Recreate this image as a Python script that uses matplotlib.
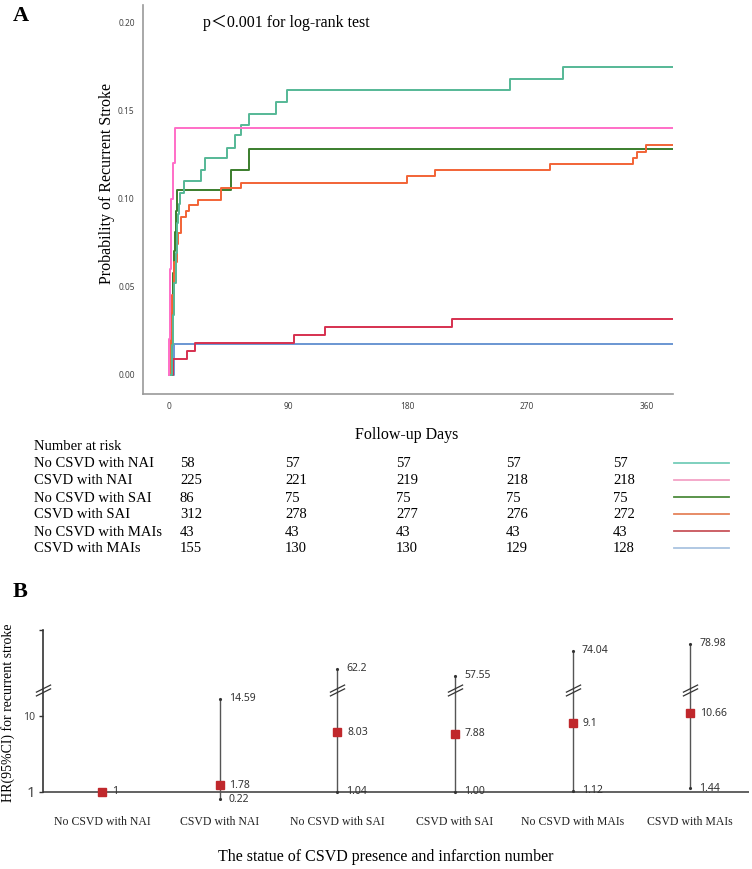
import numpy as np
import matplotlib.pyplot as plt
from matplotlib.path import Path

# ---- panel A: cumulative recurrence ----
groups = ["No CSVD with NAI", "CSVD with NAI", "No CSVD with SAI",
          "CSVD with SAI", "No CSVD with MAIs", "CSVD with MAIs"]

t_nai_no = [0, 2, 3, 4, 5, 6, 7, 7.5, 8.5, 11, 24, 27, 44, 50, 54, 60, 81, 89, 257, 297]
p_nai_no = [0, 0.017, 0.034, 0.052, 0.069, 0.086, 0.091, 0.097, 0.103, 0.110, 0.116,
            0.123, 0.129, 0.136, 0.142, 0.148, 0.155, 0.1615, 0.168, 0.175]
t_nai = [0, 0.3, 0.8, 1.5, 3.2, 4.5]
p_nai = [0, 0.02, 0.06, 0.100, 0.120, 0.140]
t_sai_no = [0, 2, 3, 3.5, 4.5, 5, 6.3, 47, 60]
p_sai_no = [0, 0.035, 0.058, 0.070, 0.081, 0.093, 0.105, 0.1165, 0.128]
t_sai = [0, 1.5, 2.5, 3.5, 5.7, 7, 8.7, 13, 15, 22, 39, 54, 179.5, 200.6, 287, 350, 353, 360]
p_sai = [0, 0.025, 0.045, 0.064, 0.074, 0.0805, 0.0895, 0.093, 0.0966, 0.0994, 0.106,
         0.109, 0.1127, 0.116, 0.1195, 0.123, 0.1263, 0.1305]
t_mai_no = [0, 2.7, 13.3, 19.6, 94.5, 117.7, 213.5]
p_mai_no = [0, 0.0089, 0.0135, 0.0178, 0.0223, 0.0269, 0.0314]
t_mai = [0, 3.5]
p_mai = [0, 0.0172]
t_end = 380

risk_days = [0, 90, 180, 270, 360]
at_risk = [[58, 57, 57, 57, 57],
           [225, 221, 219, 218, 218],
           [86, 75, 75, 75, 75],
           [312, 278, 277, 276, 272],
           [43, 43, 43, 43, 43],
           [155, 130, 130, 129, 128]]

# ---- panel B: hazard ratios ----
hr = [1, 1.78, 8.03, 7.88, 9.1, 10.66]
ci_lo = [1, 0.22, 1.04, 1.00, 1.12, 1.44]
ci_hi = [1, 14.59, 62.2, 57.55, 74.04, 78.98]
hr_txt = ["1", "1.78", "8.03", "7.88", "9.1", "10.66"]
lo_txt = ["", "0.22", "1.04", "1.00", "1.12", "1.44"]
hi_txt = ["", "14.59", "62.2", "57.55", "74.04", "78.98"]

W, H = 752, 869
plt.rcParams['font.family'] = ['Liberation Serif', 'Noto Sans CJK SC', 'DejaVu Sans']
fig = plt.figure(figsize=(W / 100, H / 100), dpi=100)

def fx(px):
    return px / W

def fy(py):
    return 1 - py / H

line_cols = ["#55b896", "#ff6ec7", "#3a7d2c", "#f26336", "#d6304f", "#6a96d2"]
leg_cols = ["#74cdb9", "#f3a3c6", "#4d8b3d", "#e5825a", "#c8545a", "#aac4e0"]
curves = [(t_nai_no, p_nai_no), (t_nai, p_nai), (t_sai_no, p_sai_no),
          (t_sai, p_sai), (t_mai_no, p_mai_no), (t_mai, p_mai)]

axA = fig.add_axes([fx(143), fy(394), fx(673) - fx(143), (394 - 5) / H])
for i in [5, 4, 2, 3, 0, 1]:
    t, p = curves[i]
    axA.step(list(t) + [t_end], list(p) + [p[-1]], where='post',
             color=line_cols[i], lw=1.4)
axA.set_xlim(-19.6, 380)
axA.set_ylim(-0.011, 0.210)
axA.set_xticks(risk_days)
axA.set_yticks([0, 0.05, 0.10, 0.15, 0.20])
axA.set_yticklabels(["%.2f" % v for v in [0, 0.05, 0.10, 0.15, 0.20]])
for s in ["top", "right"]:
    axA.spines[s].set_visible(False)
for s in ["left", "bottom"]:
    axA.spines[s].set_color("#999999")
    axA.spines[s].set_linewidth(1.2)
axA.tick_params(length=0, labelsize=6, labelcolor="#444444")
axA.tick_params(axis='y', pad=6)
axA.tick_params(axis='x', pad=6)
for lab in axA.get_xticklabels() + axA.get_yticklabels():
    lab.set_family("Noto Sans")

fig.text(fx(107), fy(183), "Probability of Recurrent Stroke", rotation=90,
         ha='center', va='center', fontsize=11.5)
fig.text(fx(203), fy(23), "p＜0.001 for log-rank test", ha='left', va='center',
         fontsize=11.5)
fig.text(fx(407), fy(435), "Follow-up Days", ha='center', va='center', fontsize=11.5)
fig.text(fx(13), fy(16), "A", ha='left', va='center', fontsize=16, weight='bold')

# number at risk table
fig.text(fx(34), fy(447), "Number at risk", ha='left', va='center', fontsize=10.5)
col_x = [180, 285, 396, 506, 613]
for r, name in enumerate(groups):
    yy = 464 + 17 * r
    fig.text(fx(34), fy(yy), name, ha='left', va='center', fontsize=10.5)
    for c, n in enumerate(at_risk[r]):
        fig.text(fx(col_x[c]), fy(yy), str(n), ha='left', va='center', fontsize=10.5)
    fig.add_artist(plt.Line2D([fx(674), fx(729)], [fy(yy - 1), fy(yy - 1)],
                              color=leg_cols[r], lw=1.3))

# ---- panel B ----
yv = [-10, 0, 10, 16, 50, 200]
yu = [-11, -1, 9, 11.6, 12.4, 12.4 + 150 * 6.2 / 35]

def fwd(v):
    return np.interp(v, yv, yu)

def inv(u):
    return np.interp(u, yu, yv)

axB = fig.add_axes([fx(43.3), fy(800.4), fx(749) - fx(43.3), (800.4 - 630) / H])
axB.set_yscale('function', functions=(fwd, inv))
axB.set_xlim(-0.5, 5.5)
axB.set_ylim(0, 88)
xs = np.arange(len(groups))
axB.axhline(1, color="#555555", lw=1.3, zorder=1)
for i in xs:
    if ci_hi[i] > ci_lo[i]:
        axB.plot([i, i], [ci_lo[i], ci_hi[i]], color="#555555", lw=1.0, zorder=2)
        axB.plot([i, i], [ci_lo[i], ci_hi[i]], ls='none', marker='.', ms=2.5,
                 color="#333333", zorder=2)
axB.plot(xs, hr, ls='none', marker='s', ms=5.5, color="#c0282c", zorder=3)

num_font = dict(family="Noto Sans", fontsize=7.5, color="#333333")
for i in xs:
    axB.annotate(hr_txt[i], (i, hr[i]), xytext=(7, 0), textcoords='offset points',
                 ha='left', va='center', **num_font)
    if hi_txt[i]:
        axB.annotate(hi_txt[i], (i, ci_hi[i]), xytext=(6.5, 0),
                     textcoords='offset points', ha='left', va='center', **num_font)
    if lo_txt[i]:
        dy = -1 if ci_lo[i] < 1 else 0
        axB.annotate(lo_txt[i], (i, ci_lo[i]), xytext=(6.5, dy),
                     textcoords='offset points', ha='left', va='center', **num_font)

# axis break marks "//"
slash = Path([(-1, -0.75), (1, 0.25), (-1, -0.25), (1, 0.75)],
             [Path.MOVETO, Path.LINETO, Path.MOVETO, Path.LINETO])
brk_y = inv(12.1)
brk_x = [-0.5] + [i for i in xs if ci_hi[i] > 50]
axB.plot(brk_x, [brk_y] * len(brk_x), ls='none', marker=slash, ms=11,
         mfc='none', mec="#333333", mew=0.9, clip_on=False, zorder=4)

for s in ["top", "right", "bottom"]:
    axB.spines[s].set_visible(False)
axB.spines["left"].set_bounds(1, 88)
axB.spines["left"].set_color("#333333")
axB.spines["left"].set_linewidth(1.2)
axB.set_yticks([1, 10, 88])
axB.set_yticklabels(["1", "10", ""])
axB.tick_params(axis='y', length=3, width=1, color="#333333", pad=3)
for lab in axB.get_yticklabels():
    lab.set_family("Noto Sans")
    lab.set_color("#444444")
    lab.set_fontsize(7.5)
axB.get_yticklabels()[0].set_fontsize(11)
axB.set_xticks(xs)
axB.set_xticklabels(groups, fontsize=8.5, color="#222222")
axB.tick_params(axis='x', length=0, pad=11)

fig.text(fx(8), fy(713), "HR(95%CI) for recurrent stroke", rotation=90,
         ha='center', va='center', fontsize=10)
fig.text(fx(386), fy(857), "The statue of CSVD presence and infarction number",
         ha='center', va='center', fontsize=11.5)
fig.text(fx(13), fy(592), "B", ha='left', va='center', fontsize=16, weight='bold')

fig.savefig("out.png", dpi=100)
